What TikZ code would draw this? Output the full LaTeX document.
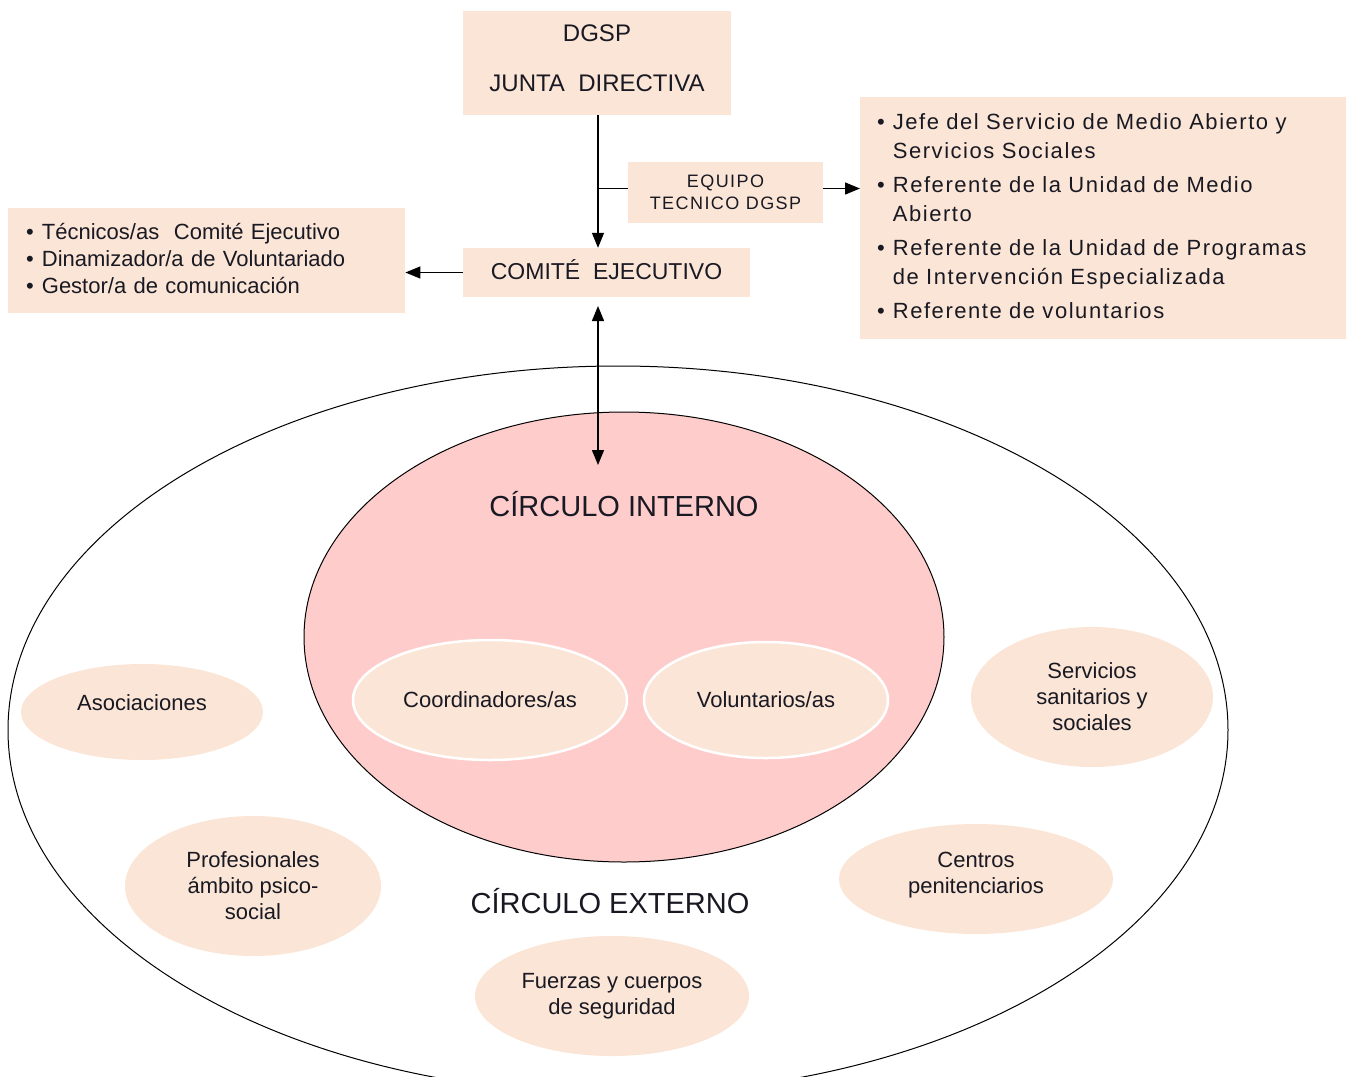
\documentclass[tikz,border=0pt]{standalone}
\usepackage{fontspec}
\setmainfont{Liberation Sans}
\newfontfamily\espaciada[LetterSpace=8]{Liberation Sans}
\newfontfamily\espaciadaleve[LetterSpace=7]{Liberation Sans}
\usetikzlibrary{shapes.geometric,arrows.meta}
\definecolor{melocoton}{RGB}{251,229,214}
\definecolor{rosainterno}{RGB}{255,204,204}
\definecolor{textooscuro}{RGB}{25,25,35}

\begin{document}
\begin{tikzpicture}[x=1pt,y=-1pt,
    caja/.style={fill=melocoton,inner sep=0pt,text=textooscuro},
    burbuja/.style={ellipse,fill=melocoton,inner sep=0pt,align=center,text=textooscuro,font=\fontsize{22}{26}\selectfont},
    flecha/.style={-{Triangle[length=15pt,width=12pt]},line width=1.4pt},
    flechadoble/.style={{Triangle[length=15pt,width=12pt]}-{Triangle[length=15pt,width=12pt]},line width=1.4pt}]
\useasboundingbox (0,0) rectangle (1353,1077);

% circulos
\node[ellipse,draw,line width=1pt,minimum width=1220pt,minimum height=728pt,inner sep=0pt] (externo) at (618,730) {};
\node[ellipse,draw,line width=1pt,fill=rosainterno,minimum width=640pt,minimum height=450pt,inner sep=0pt] (interno) at (624,637) {};
\node[text=textooscuro,font=\fontsize{29}{32}\selectfont] (titinterno) at (624,504) {CÍRCULO INTERNO};
\node[text=textooscuro,font=\fontsize{29}{32}\selectfont] (titexterno) at (610,901) {CÍRCULO EXTERNO};

% circulo interno
\node[burbuja,draw=white,line width=2.5pt,minimum width=274pt,minimum height=120pt] (coordinadores) at (490,700) {Coordinadores/as};
\node[burbuja,draw=white,line width=2.5pt,minimum width=244pt,minimum height=116pt] (voluntarios) at (766,700) {Voluntarios/as};

% circulo externo
\node[burbuja,text depth=18pt,minimum width=242pt,minimum height=96pt] (asociaciones) at (142,712) {Asociaciones};
\node[burbuja,minimum width=242pt,minimum height=140pt] (servicios) at (1092,697) {Servicios\\sanitarios y\\sociales};
\node[burbuja,minimum width=256pt,minimum height=140pt] (profesionales) at (253,886) {Profesionales\\ámbito psico-\\social};
\node[burbuja,text depth=12pt,minimum width=274pt,minimum height=110pt] (centros) at (976,879) {Centros\\penitenciarios};
\node[burbuja,minimum width=274pt,minimum height=120pt] (fuerzas) at (612,996) {Fuerzas y cuerpos\\de seguridad};

% cajas superiores
\node[caja,text depth=10pt,minimum width=268pt,minimum height=104pt,align=center,font=\fontsize{24}{50}\selectfont] (dgsp) at (597,63) {DGSP\\JUNTA\ \ DIRECTIVA};
\node[caja,minimum width=195pt,minimum height=61pt,align=center,font=\espaciada\fontsize{18}{22}\selectfont] (equipo) at (725.5,192.5) {EQUIPO\\TECNICO DGSP};
\node[caja,text depth=6pt,minimum width=287pt,minimum height=49pt,font=\fontsize{23}{26}\selectfont] (comite) at (606.5,272.5) {COMITÉ\ \ EJECUTIVO};

\node[caja,anchor=north west,inner xsep=18pt,text width=361pt,minimum height=105pt,font=\fontsize{22}{27}\selectfont] (tecnicos) at (8,208) {
    \begin{tabular}{@{}l@{\hspace{8pt}}l@{}}
        \textbullet & Técnicos/as\ \ Comité Ejecutivo \\
        \textbullet & Dinamizador/a de Voluntariado \\
        \textbullet & Gestor/a de comunicación
    \end{tabular}
};
\node[caja,anchor=north west,inner xsep=17pt,text width=452pt,minimum height=242pt,font=\espaciadaleve\fontsize{22}{29}\selectfont] (referentes) at (860,97) {
    \begin{tabular}{@{}l@{\hspace{8pt}}l@{}}
        \textbullet & Jefe del Servicio de Medio Abierto y \\
                    & Servicios Sociales \\[5pt]
        \textbullet & Referente de la Unidad de Medio \\
                    & Abierto \\[5pt]
        \textbullet & Referente de la Unidad de Programas \\
                    & de Intervención Especializada \\[5pt]
        \textbullet & Referente de voluntarios
    \end{tabular}
};

% conectores
\coordinate (bajocomite) at (598,306);
\coordinate (dentro) at (598,465);
\draw[flecha] (dgsp.south -| bajocomite) -- (comite.north -| bajocomite);
\draw[line width=1.4pt] ([yshift=4pt]equipo.west) -- ([yshift=4pt]equipo.west -| bajocomite);
\draw[flecha] ([yshift=4pt]equipo.east) -- ([yshift=4pt]referentes.west |- equipo.east);
\draw[flecha] (comite.west) -- (tecnicos.east |- comite.west);
\draw[flechadoble] (bajocomite) -- (dentro);
\end{tikzpicture}
\end{document}
